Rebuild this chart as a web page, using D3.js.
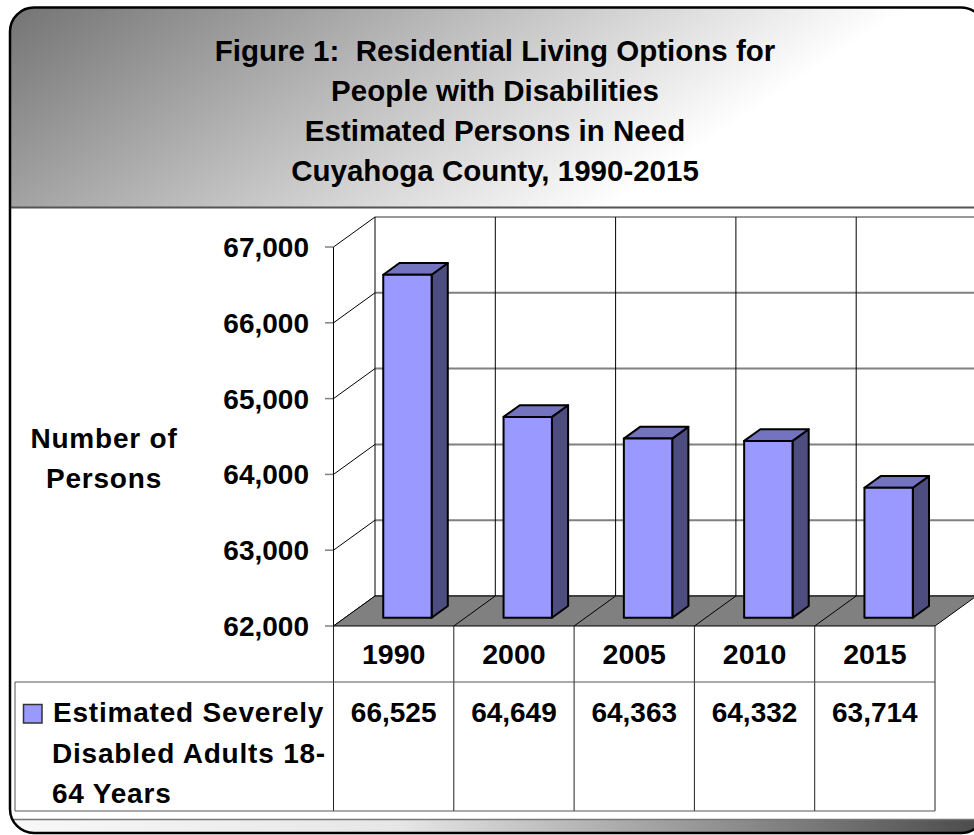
<!DOCTYPE html>
<html>
<head>
<meta charset="utf-8">
<script src="https://cdn.jsdelivr.net/npm/d3@7"></script>
<style>
  body { margin: 0; background: #fff; }
  text { font-family: "Liberation Sans", Arial, Helvetica, sans-serif; font-weight: bold; fill: #000; }
</style>
</head>
<body>
<div id="chart"></div>
<script>
// chart data
const titleLines = ["Figure 1:  Residential Living Options for", "People with Disabilities", "Estimated Persons in Need", "Cuyahoga County, 1990-2015"];
const years = ["1990", "2000", "2005", "2010", "2015"];
const persons = [66525, 64649, 64363, 64332, 63714];
const yTicks = [62000, 63000, 64000, 65000, 66000, 67000];
const axisTitle = ["Number of", "Persons"];
const seriesLabel = ["Estimated Severely", "Disabled Adults 18-", "64 Years"];

const width = 974, height = 835;
const svg = d3.select("#chart").append("svg")
    .attr("width", width)
    .attr("height", height);

const defs = svg.append("defs");
const tg = defs.append("linearGradient").attr("id", "titleGrad")
    .attr("gradientUnits", "userSpaceOnUse")
    .attr("x1", 10).attr("y1", 8).attr("x2", 287).attr("y2", 423);
tg.append("stop").attr("offset", "0%").attr("stop-color", "#747474");
tg.append("stop").attr("offset", "100%").attr("stop-color", "#ffffff");

const bg = defs.append("linearGradient").attr("id", "bottomGrad")
    .attr("gradientUnits", "userSpaceOnUse")
    .attr("x1", 10).attr("y1", 0).attr("x2", 985).attr("y2", 0);
bg.append("stop").attr("offset", "0%").attr("stop-color", "#f8f8f8");
bg.append("stop").attr("offset", "40%").attr("stop-color", "#e6e6e6");
bg.append("stop").attr("offset", "100%").attr("stop-color", "#4a4a4a");

defs.append("clipPath").attr("id", "frameClip")
    .append("rect").attr("x", 10).attr("y", 7.5).attr("width", 975).attr("height", 825.5).attr("rx", 24);

// frame with title band and bottom band
const frame = svg.append("g").attr("clip-path", "url(#frameClip)");
frame.append("rect").attr("x", 0).attr("y", 0).attr("width", 1000).attr("height", 835).attr("fill", "#fff");
frame.append("rect").attr("x", 0).attr("y", 0).attr("width", 1000).attr("height", 207).attr("fill", "url(#titleGrad)");
frame.append("rect").attr("x", 0).attr("y", 819).attr("width", 1000).attr("height", 20).attr("fill", "url(#bottomGrad)");
frame.append("line").attr("x1", 0).attr("x2", 1000).attr("y1", 207.5).attr("y2", 207.5)
    .attr("stroke", "#555").attr("stroke-width", 2);
frame.append("line").attr("x1", 0).attr("x2", 1000).attr("y1", 819.5).attr("y2", 819.5)
    .attr("stroke", "#777").attr("stroke-width", 1.5);
svg.append("rect").attr("x", 10).attr("y", 7.5).attr("width", 975).attr("height", 825.5).attr("rx", 24)
    .attr("fill", "none").attr("stroke", "#000").attr("stroke-width", 2.5);

svg.append("g").selectAll("text")
    .data(titleLines)
    .join("text")
    .attr("x", 495)
    .attr("y", (d, i) => 61 + i * 40)
    .attr("text-anchor", "middle")
    .style("font-size", "29.5px")
    .style("white-space", "pre")
    .text(d => d);

// 3d plot geometry
const x = d3.scaleBand().domain(years).range([333.5, 935]);
const y = d3.scaleLinear().domain([62000, 67000]).range([626, 247]);
const DX = 41.5, DY = -30;
const proj = (xv, v, z) => [xv + z * DX, y(v) + z * DY];
const xl = x.range()[0], xr = x.range()[1];
const bounds = years.map(d => x(d)).concat([xr]);
const yMin = y.domain()[0], yMax = y.domain()[1];

const plot = svg.append("g");

// back wall gridlines
plot.selectAll(".hgrid")
    .data(yTicks)
    .join("line")
    .attr("x1", d => proj(xl, d, 1)[0]).attr("y1", d => proj(xl, d, 1)[1])
    .attr("x2", d => proj(xr, d, 1)[0]).attr("y2", d => proj(xr, d, 1)[1])
    .attr("stroke", d => d === yMax ? "#333" : "#808080")
    .attr("stroke-width", d => d === yMax ? 1.2 : 2);

plot.selectAll(".vgrid")
    .data(bounds)
    .join("line")
    .attr("x1", d => proj(d, yMin, 1)[0]).attr("y1", d => proj(d, yMin, 1)[1])
    .attr("x2", d => proj(d, yMax, 1)[0]).attr("y2", d => proj(d, yMax, 1)[1])
    .attr("stroke", "#000").attr("stroke-width", 1);

// left wall diagonals and ticks
plot.selectAll(".diag")
    .data(yTicks)
    .join("line")
    .attr("x1", d => proj(xl, d, 0)[0]).attr("y1", d => proj(xl, d, 0)[1])
    .attr("x2", d => proj(xl, d, 1)[0]).attr("y2", d => proj(xl, d, 1)[1])
    .attr("stroke", "#000").attr("stroke-width", 1);

plot.selectAll(".tick")
    .data(yTicks)
    .join("line")
    .attr("x1", xl - 8.5).attr("x2", xl)
    .attr("y1", d => y(d)).attr("y2", d => y(d))
    .attr("stroke", "#808080").attr("stroke-width", 1.5);

plot.append("line")
    .attr("x1", xl).attr("x2", xl).attr("y1", y(yMin)).attr("y2", y(yMax))
    .attr("stroke", "#000").attr("stroke-width", 1);

// floor
const floorPts = [proj(xl, yMin, 0), proj(xr, yMin, 0), proj(xr, yMin, 1), proj(xl, yMin, 1)];
plot.append("polygon")
    .attr("points", floorPts.map(p => p.join(",")).join(" "))
    .attr("fill", "#808080").attr("stroke", "#000").attr("stroke-width", 1);

plot.selectAll(".fdiv")
    .data(bounds.slice(1, -1))
    .join("line")
    .attr("x1", d => proj(d, yMin, 0)[0]).attr("y1", d => proj(d, yMin, 0)[1])
    .attr("x2", d => proj(d, yMin, 1)[0]).attr("y2", d => proj(d, yMin, 1)[1])
    .attr("stroke", "#000").attr("stroke-width", 1);

// y tick labels
plot.selectAll(".ylab")
    .data(yTicks)
    .join("text")
    .attr("x", 309)
    .attr("y", d => y(d))
    .attr("dy", "0.36em")
    .attr("text-anchor", "end")
    .style("font-size", "28px")
    .text(d => d3.format(",")(d));

plot.selectAll(".ytitle")
    .data(axisTitle)
    .join("text")
    .attr("x", 104)
    .attr("y", (d, i) => 448 + i * 40)
    .attr("text-anchor", "middle")
    .style("font-size", "28px")
    .style("letter-spacing", "0.8px")
    .text(d => d);

// bars
const bw = x.bandwidth();
const z0 = 0.277, z1 = 0.667;
const bars = plot.selectAll(".bar")
    .data(years.map((d, i) => ({ year: d, value: persons[i] })))
    .join("g");

const poly = pts => pts.map(p => p.join(",")).join(" ");

bars.append("polygon")
    .attr("points", d => {
        const a = x(d.year) + bw * 0.318, b = a + bw * 0.402;
        return poly([proj(b, yMin, z0), proj(b, d.value, z0), proj(b, d.value, z1), proj(b, yMin, z1)]);
    })
    .attr("fill", "#4d4d80").attr("stroke", "#000").attr("stroke-width", 2).attr("stroke-linejoin", "round");

bars.append("polygon")
    .attr("points", d => {
        const a = x(d.year) + bw * 0.318, b = a + bw * 0.402;
        return poly([proj(a, d.value, z0), proj(b, d.value, z0), proj(b, d.value, z1), proj(a, d.value, z1)]);
    })
    .attr("fill", "#7373bf").attr("stroke", "#000").attr("stroke-width", 2).attr("stroke-linejoin", "round");

bars.append("polygon")
    .attr("points", d => {
        const a = x(d.year) + bw * 0.318, b = a + bw * 0.402;
        return poly([proj(a, yMin, z0), proj(b, yMin, z0), proj(b, d.value, z0), proj(a, d.value, z0)]);
    })
    .attr("fill", "#9999ff").attr("stroke", "#000").attr("stroke-width", 2).attr("stroke-linejoin", "round");

// data table
const table = svg.append("g");
const rowTop = y(yMin), rowMid = 682, rowBot = 811, tableLeft = 15;

table.selectAll(".col")
    .data(bounds)
    .join("line")
    .attr("x1", d => d).attr("x2", d => d)
    .attr("y1", rowTop).attr("y2", rowBot)
    .attr("stroke", "#222").attr("stroke-width", 1);

table.append("line").attr("x1", tableLeft).attr("x2", tableLeft).attr("y1", rowMid).attr("y2", rowBot)
    .attr("stroke", "#555").attr("stroke-width", 1);
[rowMid, rowBot].forEach(ry => {
    table.append("line").attr("x1", tableLeft).attr("x2", xr).attr("y1", ry).attr("y2", ry)
        .attr("stroke", "#555").attr("stroke-width", 1);
});

table.selectAll(".year")
    .data(years)
    .join("text")
    .attr("x", d => x(d) + bw / 2)
    .attr("y", 664)
    .attr("text-anchor", "middle")
    .style("font-size", "28.5px")
    .text(d => d);

table.selectAll(".val")
    .data(persons)
    .join("text")
    .attr("x", (d, i) => x(years[i]) + bw / 2)
    .attr("y", 722)
    .attr("text-anchor", "middle")
    .style("font-size", "28px")
    .text(d => d3.format(",")(d));

table.append("rect")
    .attr("x", 23.5).attr("y", 704.5).attr("width", 18.5).attr("height", 18.5)
    .attr("fill", "#9999ff").attr("stroke", "#333").attr("stroke-width", 1.5);

table.selectAll(".series")
    .data(seriesLabel)
    .join("text")
    .attr("x", (d, i) => i === 0 ? 53 : 52)
    .attr("y", (d, i) => 722 + i * 40.5)
    .style("font-size", "28px")
    .style("letter-spacing", "0.8px")
    .text(d => d);
</script>
</body>
</html>
